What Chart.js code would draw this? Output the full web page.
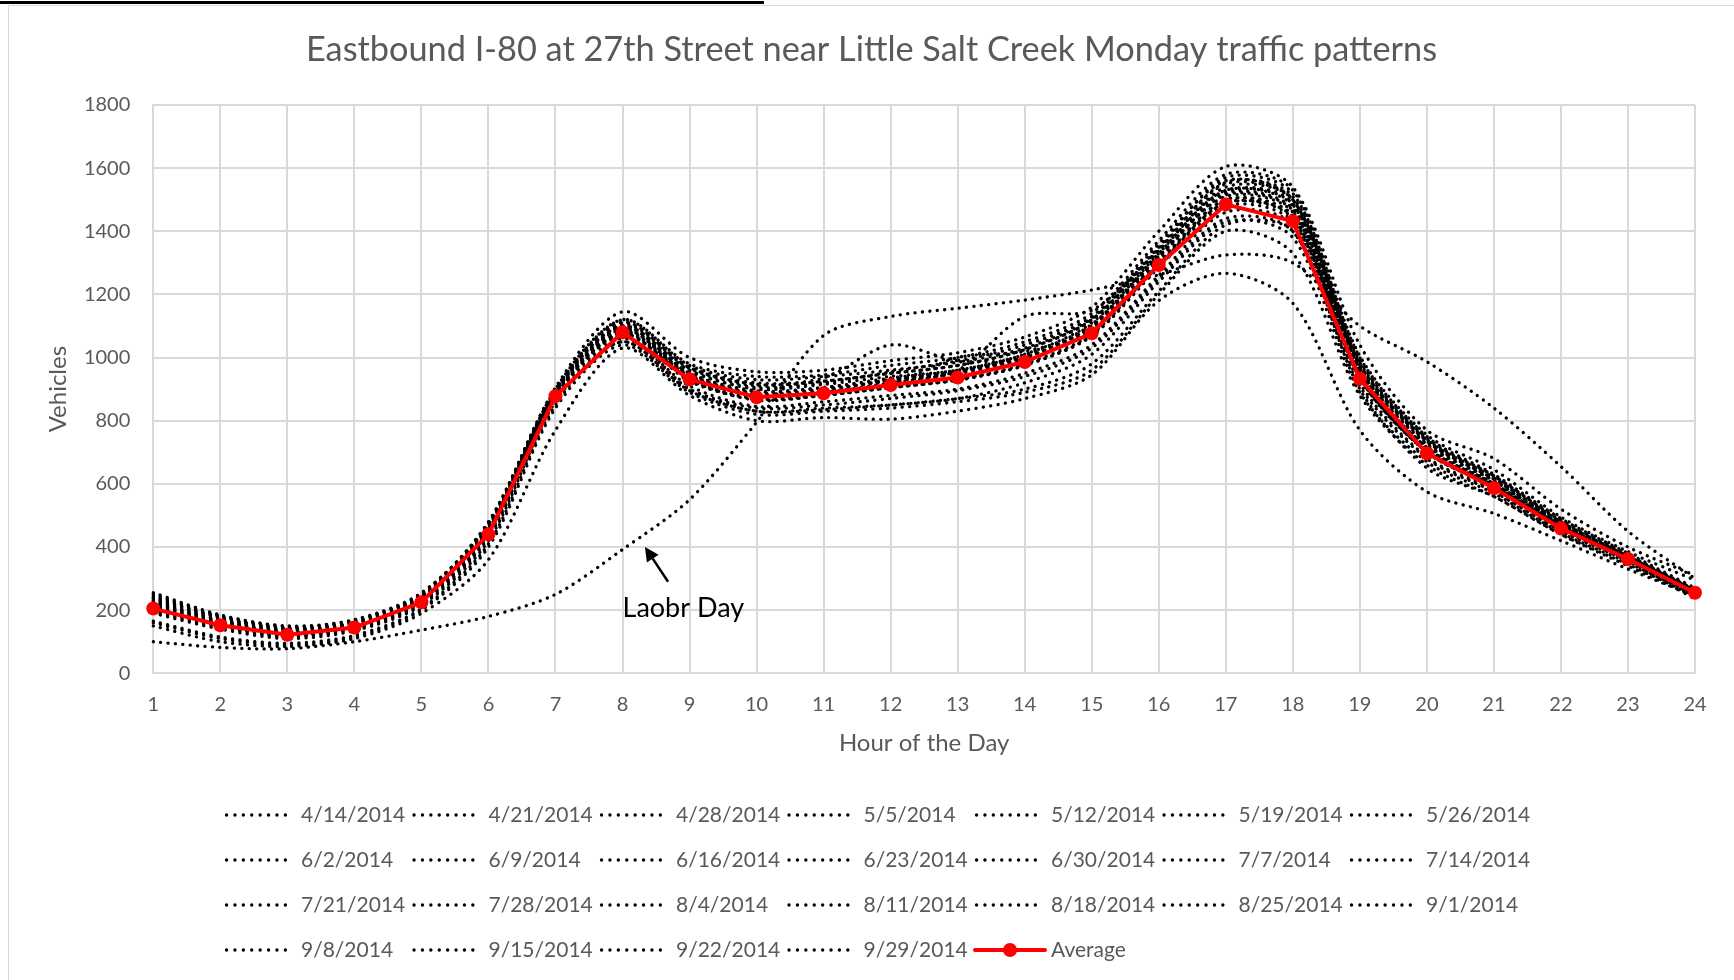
<!DOCTYPE html>
<html>
<head>
<meta charset="utf-8">
<script src="https://cdn.jsdelivr.net/npm/chart.js@4.4.1/dist/chart.umd.min.js"></script>
<style>
  html, body { margin: 0; padding: 0; background: #fff; }
  body { width: 1734px; height: 980px; position: relative; overflow: hidden; }
  #rule { position: absolute; left: 0; top: 1px; width: 764px; height: 3px; background: #000; }
  #box { position: absolute; left: 8px; top: 5px; width: 1725px; height: 974px;
         border-left: 1px solid #d9d9d9; border-top: 1px solid #d9d9d9; }
  #chart { display: block; }
</style>
</head>
<body>
<div id="rule"></div>
<div id="box"><canvas id="chart" width="1725" height="974"></canvas></div>
<script>
// hourly counts, one row per Monday
const hours = ['1','2','3','4','5','6','7','8','9','10','11','12','13','14','15','16','17','18','19','20','21','22','23','24'];

const dates = [
  '4/14/2014','4/21/2014','4/28/2014','5/5/2014','5/12/2014','5/19/2014','5/26/2014',
  '6/2/2014','6/9/2014','6/16/2014','6/23/2014','6/30/2014','7/7/2014','7/14/2014',
  '7/21/2014','7/28/2014','8/4/2014','8/11/2014','8/18/2014','8/25/2014','9/1/2014',
  '9/8/2014','9/15/2014','9/22/2014','9/29/2014'
];

const weekly = [
  [235,175,140,160,245,470,895,1100,960,900,915,940,960,1010,1110,1330,1540,1500,980,740,620,480,370,260],
  [215,160,128,150,235,455,890,1090,945,885,900,925,950,995,1090,1310,1520,1470,960,715,600,470,365,258],
  [225,168,132,152,240,460,900,1120,975,930,940,960,985,1030,1125,1350,1570,1520,1000,750,630,490,380,270],
  [210,158,125,148,232,450,885,1085,940,880,895,930,955,1000,1100,1320,1510,1460,945,705,595,465,360,252],
  [245,180,145,165,250,480,905,1145,1000,955,960,990,1015,1065,1160,1400,1605,1540,1040,770,680,520,400,310],
  [230,170,135,158,242,465,892,1105,965,910,925,950,975,1025,1120,1340,1555,1510,990,745,625,485,375,265],
  [255,185,150,170,255,470,880,1070,900,830,840,850,870,900,980,1210,1420,1400,900,650,560,440,340,240],
  [200,150,120,145,228,445,880,1075,930,865,880,905,930,980,1075,1295,1490,1440,935,700,590,460,362,255],
  [220,165,130,150,238,455,888,1095,955,905,920,955,990,1040,1130,1360,1560,1500,975,735,615,478,370,262],
  [195,145,115,140,220,430,870,1060,910,845,860,880,900,950,1040,1260,1460,1420,920,685,580,455,358,250],
  [240,178,142,162,248,475,900,1110,970,920,935,1040,990,1000,1100,1300,1500,1450,950,720,610,475,368,258],
  [190,140,110,135,215,420,860,1050,900,840,850,870,895,940,1030,1250,1440,1400,910,680,575,450,355,235],
  [150,100,85,110,190,360,770,1030,880,800,810,805,830,870,945,1180,1267,1172,770,575,506,420,330,245],
  [212,155,124,147,230,445,882,1090,940,880,890,920,960,1130,1150,1340,1530,1480,955,710,600,468,366,256],
  [205,152,120,144,226,440,878,1080,935,875,888,915,1000,1020,1090,1300,1500,1445,940,705,595,463,364,256],
  [160,110,90,115,200,400,840,1040,890,820,830,840,860,890,960,1200,1400,1330,880,660,560,440,345,245],
  [250,182,148,168,252,478,898,1120,980,940,945,975,1000,1050,1140,1370,1580,1530,1005,755,645,495,385,295],
  [228,168,134,155,240,462,890,1100,950,895,905,930,955,1005,1100,1320,1525,1485,965,725,610,472,368,260],
  [208,155,122,146,228,442,880,1080,930,870,882,905,930,975,1070,1285,1480,1430,935,700,588,460,362,254],
  [165,115,95,120,205,410,850,1050,895,830,835,850,870,920,1010,1240,1430,1380,890,670,570,445,350,248],
  [100,82,78,100,137,180,250,392,550,795,1070,1130,1156,1182,1214,1262,1325,1300,1100,987,840,655,450,300],
  [218,162,128,150,235,452,886,1092,945,888,900,925,950,1000,1095,1315,1515,1465,950,715,602,470,366,258],
  [238,176,140,160,245,468,895,1112,968,915,925,950,975,1025,1120,1345,1550,1500,985,740,625,482,374,264],
  [222,165,130,152,236,456,888,1098,950,892,905,935,960,1010,1105,1330,1530,1490,970,730,615,476,370,262],
  [202,150,119,143,224,436,875,1075,925,868,880,905,928,975,1068,1290,1490,1445,940,702,592,462,364,256]
];

const average = [205,152,122,145,225,440,878,1080,931,874,887,913,937,986,1077,1293,1485,1432,933,697,587,459,362,255];

const yMin = 0, yMax = 1800, yStep = 200;

// callout for the holiday curve: [category index, vehicles]
const note = { text: 'Laobr Day', label: [7.0, 207], tail: [7.68, 290], head: [7.335, 400] };

const FONT = 'Lato, "Open Sans", sans-serif';
const GREY = '#595959';
const GRID = '#d9d9d9';
const DOTS = [0.1, 7.3];

const datasets = dates.map((d, i) => ({
  label: d,
  data: weekly[i],
  borderColor: '#000',
  borderWidth: 3.3,
  borderDash: DOTS,
  borderCapStyle: 'round',
  pointRadius: 0,
  tension: 0.3,
  fill: false,
  clip: false,
  order: 1
}));
datasets.push({
  label: 'Average',
  data: average,
  borderColor: '#ff0000',
  backgroundColor: '#ff0000',
  borderWidth: 4,
  pointRadius: 7,
  pointBorderWidth: 0,
  pointBackgroundColor: '#ff0000',
  tension: 0,
  fill: false,
  clip: false,
  order: 0
});

// Excel-style legend laid out in fixed columns under the axis
const gridLegend = {
  id: 'gridLegend',
  afterDraw(chart) {
    const ctx = chart.ctx;
    const cols = 7, x0 = 216, colW = 187.5, y0 = 809, rowH = 45;
    ctx.save();
    ctx.font = '21px ' + FONT;
    ctx.textBaseline = 'middle';
    chart.data.datasets.forEach((ds, i) => {
      const x = x0 + (i % cols) * colW;
      const y = y0 + Math.floor(i / cols) * rowH;
      ctx.beginPath();
      if (ds.borderDash) {
        ctx.strokeStyle = '#000';
        ctx.lineWidth = 3.3;
        ctx.lineCap = 'round';
        ctx.setLineDash([0.1, 8.3]);
        ctx.moveTo(x + 1.5, y);
        ctx.lineTo(x + 62, y);
        ctx.stroke();
      } else {
        ctx.strokeStyle = ds.borderColor;
        ctx.lineWidth = 4;
        ctx.setLineDash([]);
        ctx.moveTo(x, y);
        ctx.lineTo(x + 70, y);
        ctx.stroke();
        ctx.beginPath();
        ctx.fillStyle = ds.borderColor;
        ctx.arc(x + 35, y, 7, 0, Math.PI * 2);
        ctx.fill();
      }
      ctx.setLineDash([]);
      ctx.fillStyle = GREY;
      ctx.fillText(ds.label, x + 76, y);
    });
    ctx.restore();
  }
};

const callout = {
  id: 'callout',
  afterDatasetsDraw(chart) {
    const { ctx, scales: { x, y } } = chart;
    const px = p => [x.getPixelForValue(p[0]), y.getPixelForValue(p[1])];
    const [lx, ly] = px(note.label);
    const [tx, ty] = px(note.tail);
    const [hx, hy] = px(note.head);
    ctx.save();
    ctx.fillStyle = '#000';
    ctx.strokeStyle = '#000';
    ctx.font = '27px ' + FONT;
    ctx.textBaseline = 'middle';
    ctx.fillText(note.text, lx, ly);
    const ang = Math.atan2(hy - ty, hx - tx);
    const headLen = 14, headW = 7;
    const bx = hx - headLen * Math.cos(ang), by = hy - headLen * Math.sin(ang);
    ctx.lineWidth = 2.5;
    ctx.beginPath();
    ctx.moveTo(tx, ty);
    ctx.lineTo(bx, by);
    ctx.stroke();
    ctx.beginPath();
    ctx.moveTo(hx, hy);
    ctx.lineTo(bx + headW * Math.sin(ang), by - headW * Math.cos(ang));
    ctx.lineTo(bx - headW * Math.sin(ang), by + headW * Math.cos(ang));
    ctx.closePath();
    ctx.fill();
    ctx.restore();
  }
};

function draw() {
  new Chart(document.getElementById('chart'), {
    type: 'line',
    data: { labels: hours, datasets },
    plugins: [gridLegend, callout],
    options: {
      responsive: false,
      animation: false,
      events: [],
      layout: { padding: { left: 0, right: 0, top: 0, bottom: 216.7 } },
      plugins: {
        legend: { display: false },
        tooltip: { enabled: false },
        title: {
          display: true,
          text: 'Eastbound I-80 at 27th Street near Little Salt Creek Monday traffic patterns',
          color: GREY,
          font: { family: FONT, size: 34.3, weight: 'normal' },
          padding: { top: 23.4, bottom: 34.4 }
        }
      },
      scales: {
        x: {
          offset: false,
          grid: { color: GRID, lineWidth: 2, drawTicks: false },
          border: { color: GRID, width: 2 },
          ticks: { color: GREY, font: { family: FONT, size: 20 }, padding: 19.5, maxRotation: 0, autoSkip: false },
          title: { display: true, text: 'Hour of the Day', color: GREY,
                   font: { family: FONT, size: 24 }, padding: { top: 0, bottom: 5.9 } },
          // keep the plot's right margin without shifting the centred title
          afterFit(s) { s.height = 90; s.paddingRight = 39; }
        },
        y: {
          min: yMin,
          max: yMax,
          grid: { color: GRID, lineWidth: 2, drawTicks: false },
          border: { color: GRID, width: 2 },
          ticks: { stepSize: yStep, color: GREY, font: { family: FONT, size: 20 }, padding: 23,
                   callback: v => String(v) },
          title: { display: true, text: 'Vehicles', color: GREY,
                   font: { family: FONT, size: 24 }, padding: { top: 35.2, bottom: 0 } },
          afterFit(s) { s.width = 144.3; }
        }
      }
    }
  });
}

document.fonts.load('20px Lato').then(draw, draw);
</script>
</body>
</html>
